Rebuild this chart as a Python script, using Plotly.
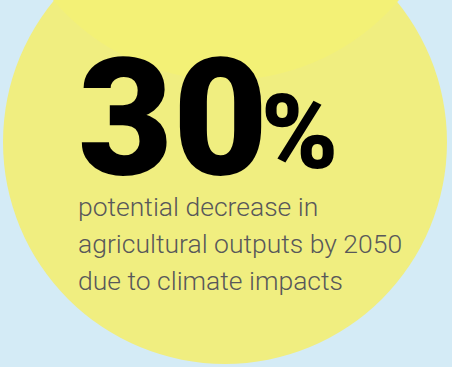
import plotly.graph_objects as go

stat_value = "30"
stat_unit = "%"
caption_lines = ["potential decrease in", "agricultural outputs by 2050", "due to climate impacts"]

W, H = 452, 367
bg = "#d4ebf6"
big_circle = "#f0ee80"
top_circle = "#f3f176"

fig = go.Figure()
fig.add_shape(type="circle", xref="x", yref="y", x0=225 - 222, x1=225 + 222, y0=142 - 222, y1=142 + 222,
              fillcolor=big_circle, line_width=0, layer="below")
fig.add_shape(type="circle", xref="x", yref="y", x0=226 - 227, x1=226 + 227, y0=-147 - 227, y1=-147 + 227,
              fillcolor=top_circle, line_width=0, layer="below")

fig.add_annotation(x=76, y=216, xref="x", yref="y", text=stat_value, showarrow=False,
                   xanchor="left", yanchor="bottom",
                   font=dict(family="Roboto", size=164, color="#000000", weight=900))
fig.add_annotation(x=259, y=195, xref="x", yref="y", text=stat_unit, showarrow=False,
                   xanchor="left", yanchor="bottom",
                   font=dict(family="Roboto", size=104, color="#000000", weight=900))
line_tops = [189, 226, 263]
for line, top in zip(caption_lines, line_tops):
    fig.add_annotation(x=76, y=top, xref="x", yref="y", text=line, showarrow=False,
                       xanchor="left", yanchor="top", align="left",
                       font=dict(family="Roboto", size=26.5, color="#58585a", weight=300))

fig.update_layout(width=W, height=H, margin=dict(l=0, r=0, t=0, b=0),
                  paper_bgcolor=bg, plot_bgcolor=bg, showlegend=False,
                  xaxis=dict(range=[0, W], visible=False, fixedrange=True),
                  yaxis=dict(range=[H, 0], visible=False, fixedrange=True))
fig.write_html("out.html", config={"displayModeBar": False},
               post_script="document.body.style.margin='0';document.body.style.overflow='hidden';")
